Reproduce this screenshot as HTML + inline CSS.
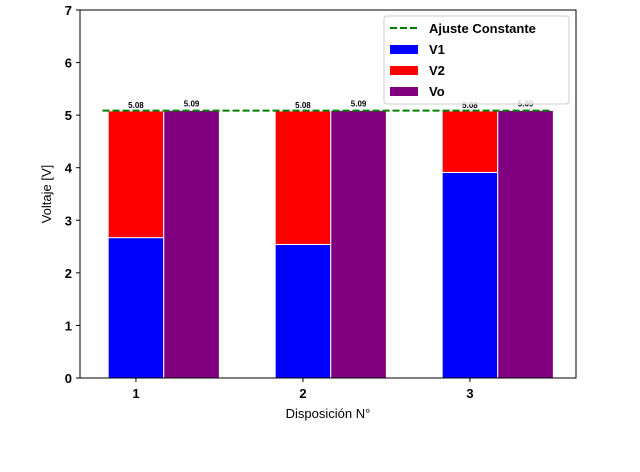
<!DOCTYPE html>
<html><head><meta charset="utf-8"><style>
body{margin:0;background:#fff}
svg{display:block;font-family:"Liberation Sans","DejaVu Sans",sans-serif}
</style></head><body>
<svg id="chart" width="640" height="472" viewBox="0 0 640 472">
<g id="plot"></g>
<g id="axes"></g>
<g id="legend">
<rect x="384" y="16" width="185" height="88" rx="3" fill="#fff" fill-opacity="0.8" stroke="#ccc"/>
<line x1="390" y1="28" x2="420" y2="28" stroke="green" stroke-width="2" stroke-dasharray="7,3"/>
<text x="429" y="33" font-size="13" font-weight="bold">Ajuste Constante</text>
<rect x="390" y="45" width="28" height="9" fill="blue"/>
<text x="429" y="54" font-size="13" font-weight="bold">V1</text>
<rect x="390" y="66" width="28" height="9" fill="red"/>
<text x="429" y="75" font-size="13" font-weight="bold">V2</text>
<rect x="390" y="87" width="28" height="9" fill="purple"/>
<text x="429" y="96" font-size="13" font-weight="bold">Vo</text>
</g>
</svg>
<script>
const categories = [1, 2, 3];
const v1Values = [2.67, 2.54, 3.91];
const v2Values = [2.41, 2.54, 1.17];
const voValues = [5.09, 5.09, 5.09];
const stackLabels = ["5.08", "5.08", "5.08"];
const voLabels = ["5.09", "5.09", "5.09"];
const fitValue = 5.085;
const yTicks = [0, 1, 2, 3, 4, 5, 6, 7];

const L=80,R=576,T=10,B=378;
const xMin=0.665,xMax=3.635,yMin=0,yMax=7;
const xs=v=>L+(v-xMin)/(xMax-xMin)*(R-L);
const ys=v=>B-(v-yMin)/(yMax-yMin)*(B-T);
const NS="http://www.w3.org/2000/svg";
function mk(parent,tag,attrs){const e=document.createElementNS(NS,tag);for(const k in attrs)e.setAttribute(k,attrs[k]);parent.appendChild(e);return e;}
const plot=document.getElementById('plot'),axes=document.getElementById('axes');
const bw=0.333;
categories.forEach((c,i)=>{
  const x0=xs(c-bw/2),x1=xs(c+bw/2),x2=xs(c+1.5*bw);
  let r=mk(plot,'rect',{x:x0,y:ys(v1Values[i]),width:x1-x0,height:ys(0)-ys(v1Values[i]),fill:'blue',stroke:'#fff','stroke-width':1});
  
  
  const top=v1Values[i]+v2Values[i];
  r=mk(plot,'rect',{x:x0,y:ys(top),width:x1-x0,height:ys(v1Values[i])-ys(top),fill:'red',stroke:'#fff','stroke-width':1});
  
  
  r=mk(plot,'rect',{x:x1,y:ys(voValues[i]),width:x2-x1,height:ys(0)-ys(voValues[i]),fill:'purple',stroke:'#fff','stroke-width':1});
  
  
  let t=mk(plot,'text',{x:(x0+x1)/2,y:ys(top)-3,'font-size':8,'font-weight':'bold','text-anchor':'middle'});
  t.textContent=stackLabels[i];
  
  
  t=mk(plot,'text',{x:(x1+x2)/2,y:ys(voValues[i])-4,'font-size':8,'font-weight':'bold','text-anchor':'middle'});
  t.textContent=voLabels[i];
  
  
});
const fl=mk(plot,'line',{x1:xs(categories[0]-0.2),x2:xs(categories[categories.length-1]+0.49),y1:ys(fitValue),y2:ys(fitValue),stroke:'green','stroke-width':2,'stroke-dasharray':'7,3'});


const fr=mk(axes,'rect',{x:L,y:T,width:R-L,height:B-T,fill:'none',stroke:'#000','stroke-width':1});


yTicks.forEach(v=>{
  const y=ys(v);
  mk(axes,'line',{x1:L-4,x2:L,y1:y,y2:y,stroke:'#000'});
  const t=mk(axes,'text',{x:L-8,y:y+5,'font-size':13,'font-weight':'bold','text-anchor':'end'});
  t.textContent=v;
  
  
});
categories.forEach(c=>{
  const x=xs(c);
  mk(axes,'line',{x1:x,x2:x,y1:B,y2:B+4,stroke:'#000'});
  const t=mk(axes,'text',{x:x,y:B+20,'font-size':13,'font-weight':'bold','text-anchor':'middle'});
  t.textContent=c;
  
  
});
let t=mk(axes,'text',{x:(L+R)/2,y:418,'font-size':13,'text-anchor':'middle'});
t.textContent='Disposición N°';


t=mk(axes,'text',{x:0,y:0,'font-size':13,'text-anchor':'middle',transform:'translate(51,194) rotate(-90)'});
t.textContent='Voltaje [V]';


</script>
</body></html>
